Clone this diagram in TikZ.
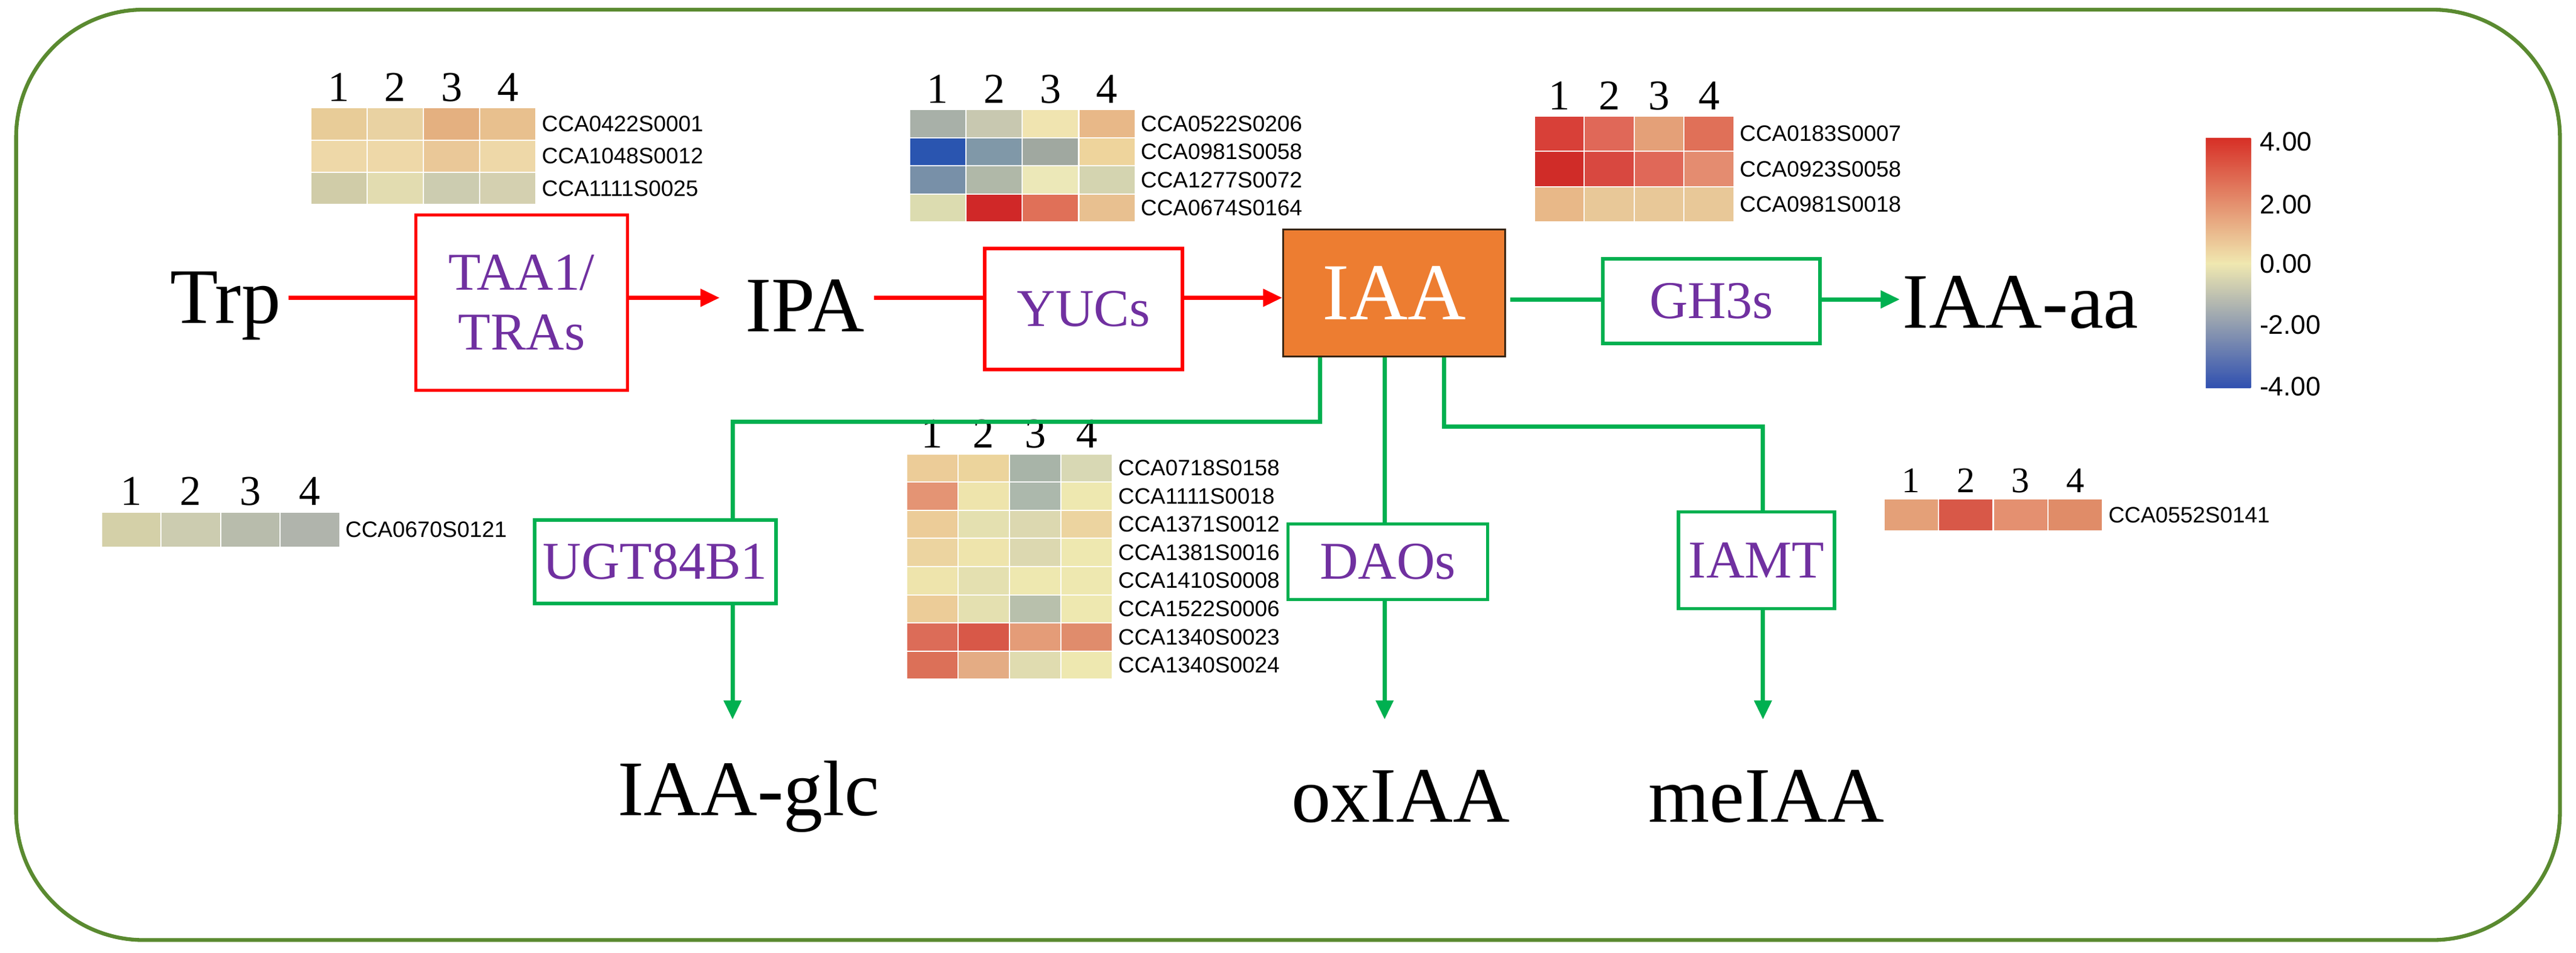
\documentclass[tikz,border=0pt]{standalone}
\usepackage{fontspec}
\setmainfont{Liberation Serif}
\newfontfamily\ar{Liberation Sans}
\usetikzlibrary{arrows.meta}
\definecolor{grn}{HTML}{00B050}
\definecolor{frm}{HTML}{5A8A30}
\definecolor{pur}{HTML}{7030A0}
\definecolor{org}{HTML}{ED7D31}
\tikzset{
 big/.style={font=\fontsize{37}{39}\selectfont},
 enz/.style={font=\fontsize{25}{28}\selectfont,text=pur,fill=white,line width=1.6pt,inner sep=4pt,align=center},
 gene/.style={font=\ar\fontsize{10.5}{11}\selectfont,anchor=west,inner sep=1pt},
 red/.style={draw=red,line width=2pt,-{Triangle[length=9pt,width=8pt]}},
 gr/.style={draw=grn,line width=2pt},
 gra/.style={gr,-{Triangle[length=9pt,width=8pt]}},
}
% heatmap: x0, y0, cell width, row height, rows, genes, numbers font size
\newcommand\myheat[7]{%
 \foreach \row [count=\r] in {#5}{%
  \foreach \c [count=\k] in \row {%
   \definecolor{tmp}{HTML}{\c}%
   \fill[tmp,draw=white,line width=0.6pt] ({#1+(\k-1)*#3},{#2+(\r-1)*#4}) rectangle ++(#3,#4);
  }}
 \foreach \g [count=\r] in {#6}{%
  \node[gene] at ({#1+4*#3+2},{#2+(\r-0.5)*#4}) {\g};}
 \foreach \n in {1,2,3,4}{%
  \node[font=\fontsize{#7}{#7}\selectfont,anchor=base] at ({#1+(\n-0.5)*#3},{#2-4}) {\n};}
}
\begin{document}
\begin{tikzpicture}[x=0.26619mm,y=-0.26619mm]
\useasboundingbox (0,0) rectangle (1600,592);
\draw[frm,line width=1.8pt,rounded corners=60pt] (10,6) rectangle (1590,584);
% heatmaps
\myheat{193}{67}{35}{20}{{E8CC98,E9D2A2,E4B080,E8C08E},{EED8A8,EED8A8,EAC898,EED8A8},{D0CCA8,E2DCB0,CCCCB0,D4D0B0}}{CCA0422S0001,CCA1048S0012,CCA1111S0025}{20}
\myheat{565}{68}{35}{17.5}{{A8B0A8,C8C8B0,F0E4B0,E8B888},{2A55B0,8098A8,A0A8A0,EED49C},{7890A8,B0B8A8,ECE8B8,D4D4B0},{DCDCB0,D02828,E07058,E8C090}}{CCA0522S0206,CCA0981S0058,CCA1277S0072,CCA0674S0164}{20}
\myheat{953}{72}{31}{22}{{D84038,E06858,E4A078,E07058},{D02C28,D84840,E06858,E48C70},{E8B888,E8C898,E8C898,E8C898}}{CCA0183S0007,CCA0923S0058,CCA0981S0018}{20}
\myheat{563}{282}{32}{17.5}{{ECCC98,ECD49C,A8B4A8,D8D8B4},{E49474,EEE4AC,ACB8AC,EEE8B0},{ECCC98,E4E0B0,DCD8B0,ECD4A0},{ECD4A0,EEE4AC,DCD8B0,EEE8B0},{EEE4AC,E4E0B0,EEE8B0,EEE8B0},{ECCC98,E4E0B0,B8C0AC,EEE8B0},{DC6C58,D85848,E49C78,E08C6C},{DC7058,E4AC84,E0DCB0,EEE8B0}}{CCA0718S0158,CCA1111S0018,CCA1371S0012,CCA1381S0016,CCA1410S0008,CCA1522S0006,CCA1340S0023,CCA1340S0024}{20}
\myheat{63}{318}{37}{22}{{D4D0A8,CCCCB0,B8BCAC,B0B4AC}}{CCA0670S0121}{20}
\myheat{1170}{310}{34}{20}{{E4A078,D85848,E49070,E08C68}}{CCA0552S0141}{17}
% colour bar
\shade[top color={rgb,255:red,215;green,48;blue,39},bottom color={rgb,255:red,240;green,232;blue,176}] (1370,86) rectangle (1398,164);
\shade[top color={rgb,255:red,240;green,232;blue,176},bottom color={rgb,255:red,48;green,80;blue,176}] (1370,163.5) rectangle (1398,241);
\foreach \v/\yy in {4.00/88,2.00/127,0.00/164,-2.00/202,-4.00/240}
 \node[font=\ar\fontsize{12.6}{13}\selectfont,anchor=west,inner sep=1pt] at (1402,\yy) {\v};
% main nodes
\node[big] (trp) at (140,190) {Trp};
\node[big] (ipa) at (500,190) {IPA};
\node[draw=black!70!brown,fill=org,line width=1pt,minimum width=36.7mm,minimum height=21mm,font=\fontsize{38}{40}\selectfont,text=white] (iaa) at (866,182) {IAA};
\node[big] (iaaa) at (1255,188) {IAA-aa};
\node[big] (glc) at (465,495) {IAA-glc};
\node[big] (ox) at (870,495) {oxIAA};
\node[big] (me) at (1097,495) {meIAA};
% red arrows
\draw[red] (trp.east |- 0,185) -- (447,185) coordinate (e1);
\draw[red] (543,185) -- (iaa.west |- 0,185);
\node[enz,draw=red,minimum width=35mm,minimum height=29mm] (taa) at (324,188) {TAA1/\\TRAs};
\node[enz,draw=red,minimum width=32.7mm,minimum height=20mm] (yuc) at (673,192) {YUCs};
% green
\coordinate (g0) at (938,186);
\draw[gra] (g0) -- (1180,186) coordinate (g1);
\node[enz,draw=grn,minimum width=35.9mm,minimum height=14mm] (gh3) at (1063,187) {GH3s};
\coordinate (b1) at (820,222);
\coordinate (b2) at (860,222);
\coordinate (b3) at (897,222);
\draw[gra] (b1) |- (455,262) -- (455,447) coordinate (t1);
\draw[gra] (b2) -- (860,447) coordinate (t2);
\draw[gra] (b3) |- (1095,265) -- (1095,447) coordinate (t3);
\node[enz,draw=grn,minimum width=30.6mm,minimum height=13.8mm] (ugt) at (407,349) {UGT84B1};
\node[enz,draw=grn,minimum width=33mm,minimum height=12.5mm] (dao) at (862,349) {DAOs};
\node[enz,draw=grn,minimum width=25.8mm,minimum height=16mm] (iamt) at (1091,348) {IAMT};
\end{tikzpicture}
\end{document}
